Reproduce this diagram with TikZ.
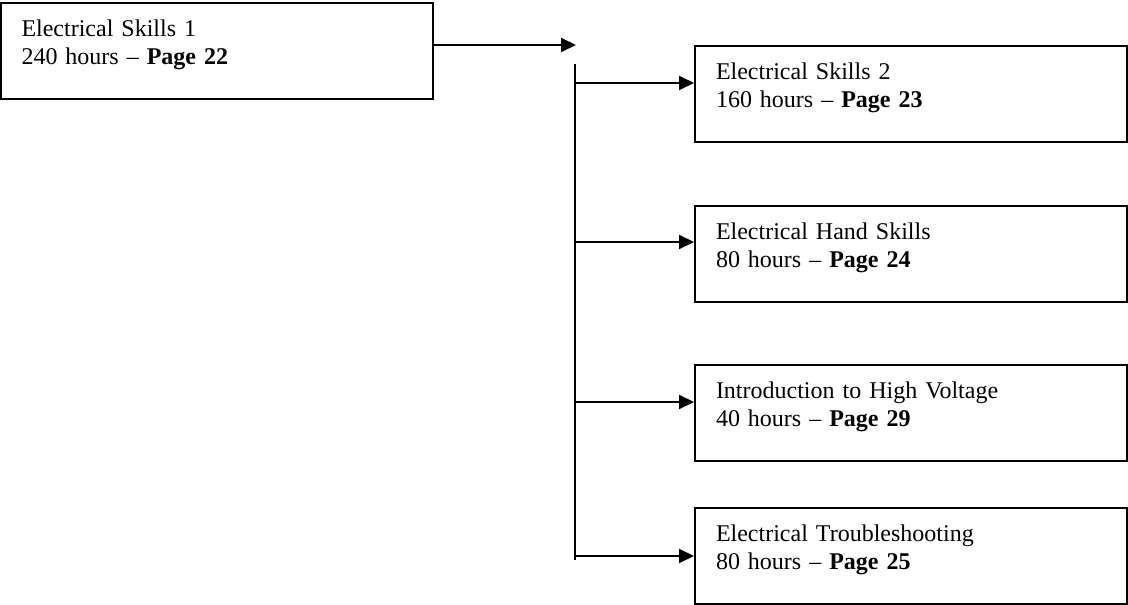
\documentclass[tikz,border=0pt]{standalone}
\usepackage{fontspec}
\setmainfont{Liberation Serif}
\usetikzlibrary{arrows.meta}

\begin{document}
\begin{tikzpicture}[x=1pt,y=-1pt,
		course/.style={draw, rectangle, line width=2pt, inner xsep=21pt, inner ysep=0pt,
			text width=390pt, minimum height=96pt, align=left,
			font=\fontsize{24}{28}\selectfont,
			execute at end node={\rule[-17pt]{0pt}{17pt}}},
		link/.style={line width=2pt, -{Triangle[length=15pt,width=14pt]}}]
				\useasboundingbox (0,0) rectangle (1128,605);
				
				% First course
				\node[course] (skills1) at (216.5,50.5) {Electrical Skills 1\\240 hours -- \textbf{Page 22}};
				
				% Following courses
				\node[course] (skills2) at (911,93.5) {Electrical Skills 2\\160 hours -- \textbf{Page 23}};
				\node[course] (hand) at (911,253.5) {Electrical Hand Skills\\80 hours -- \textbf{Page 24}};
				\node[course] (voltage) at (911,412.5) {Introduction to High Voltage\\40 hours -- \textbf{Page 29}};
				\node[course] (trouble) at (911,555.5) {Electrical Troubleshooting\\80 hours -- \textbf{Page 25}};
				
				% Bus line
				\coordinate (join) at (576,45);
				\coordinate (bustop) at (575,64);
				\coordinate (busbot) at (575,560);
				\draw[link] (skills1.east |- join) -- (join);
				\draw[line width=2pt] (bustop) -- (busbot);
				
				% Branches
				\foreach \n/\y in {skills2/83, hand/242, voltage/402, trouble/556}
					\draw[link] (bustop |- 0,\y) -- (\n.west |- 0,\y);
				
			\end{tikzpicture}
\end{document}
